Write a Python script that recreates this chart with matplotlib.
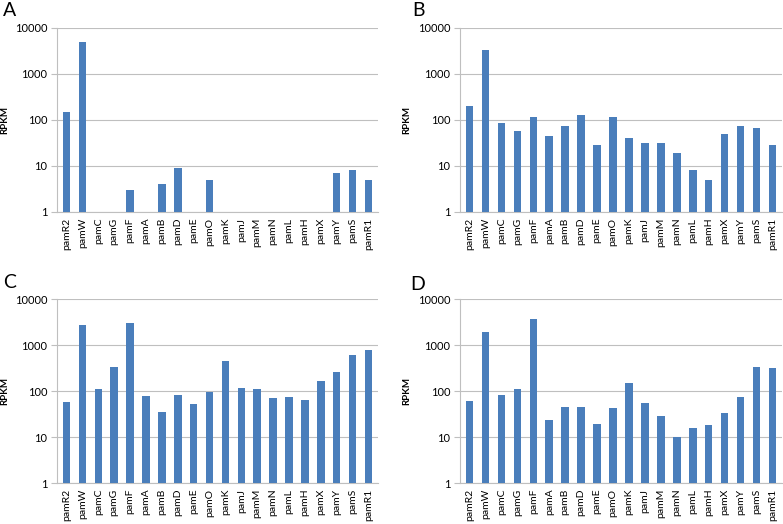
import matplotlib
matplotlib.use("Agg")
import matplotlib.pyplot as plt
import numpy as np

plt.rcParams['font.family'] = ['Lato', 'DejaVu Sans']

genes = ['pamR2', 'pamW', 'pamC', 'pamG', 'pamF', 'pamA', 'pamB', 'pamD', 'pamE',
         'pamO', 'pamK', 'pamJ', 'pamM', 'pamN', 'pamL', 'pamH', 'pamX', 'pamY',
         'pamS', 'pamR1']

# RPKM per sample (0 = not detected)
rpkm_a = [150, 5000, 0, 0, 3, 0, 4, 9, 0, 5, 0, 0, 0, 0, 0, 0, 0, 7, 8, 5]
rpkm_b = [205, 3300, 84, 58, 116, 44, 75, 126, 28, 116, 41, 31, 32, 19, 8, 5,
          50, 74, 67, 28]
rpkm_c = [58, 2770, 110, 327, 3050, 79, 35, 83, 52, 97, 440, 114, 109, 71, 74,
          64, 165, 260, 600, 790]
rpkm_d = [60, 1950, 80, 112, 3600, 24, 45, 44, 19, 43, 149, 56, 28, 10, 16, 18,
          33, 74, 340, 318]

panels = [('A', rpkm_a), ('B', rpkm_b), ('C', rpkm_c), ('D', rpkm_d)]

W, H = 783, 524
fig = plt.figure(figsize=(W / 100, H / 100), dpi=100)

# axes boxes in pixels: left, top, right, bottom
boxes = [(57, 28, 378, 212), (460, 28, 782, 212),
         (57, 299, 378, 483), (460, 299, 782, 483)]
letter_pos = [(3, 2), (412, 2), (3, 274), (410, 276)]

bar_color = '#4A7EBB'
grid_color = '#BFBFBF'

x = np.arange(len(genes))
for (letter, vals), (l, t, r, b), (lx, ly) in zip(panels, boxes, letter_pos):
    ax = fig.add_axes([l / W, (H - b) / H, (r - l) / W, (b - t) / H])
    v = np.array(vals, dtype=float)
    v[v <= 0] = np.nan
    ax.bar(x, v, width=0.48, color=bar_color, zorder=3)
    ax.set_yscale('log')
    ax.set_ylim(1, 10000)
    ax.set_xlim(-0.6, len(genes) - 0.4)
    ax.set_yticks([1, 10, 100, 1000, 10000])
    ax.set_yticklabels(['1', '10', '100', '1000', '10000'])
    ax.yaxis.set_minor_locator(matplotlib.ticker.NullLocator())
    ax.set_xticks(x)
    ax.set_xticklabels(genes, rotation=90, fontsize=7.5)
    ax.tick_params(axis='x', length=0, pad=4)
    ax.tick_params(axis='y', length=4, color=grid_color, labelsize=8, pad=3)
    ax.grid(axis='y', color=grid_color, linewidth=0.8, zorder=0)
    for s in ['top', 'right']:
        ax.spines[s].set_visible(False)
    for s in ['left', 'bottom']:
        ax.spines[s].set_color(grid_color)
        ax.spines[s].set_linewidth(0.8)
    ax.set_ylabel('RPKM', fontsize=7, fontweight='bold')
    ax.yaxis.set_label_coords(-0.15, 0.5)
    fig.text(lx / W, 1 - ly / H, letter, fontsize=14, va='top', ha='left')

fig.savefig('out.png', dpi=100)
